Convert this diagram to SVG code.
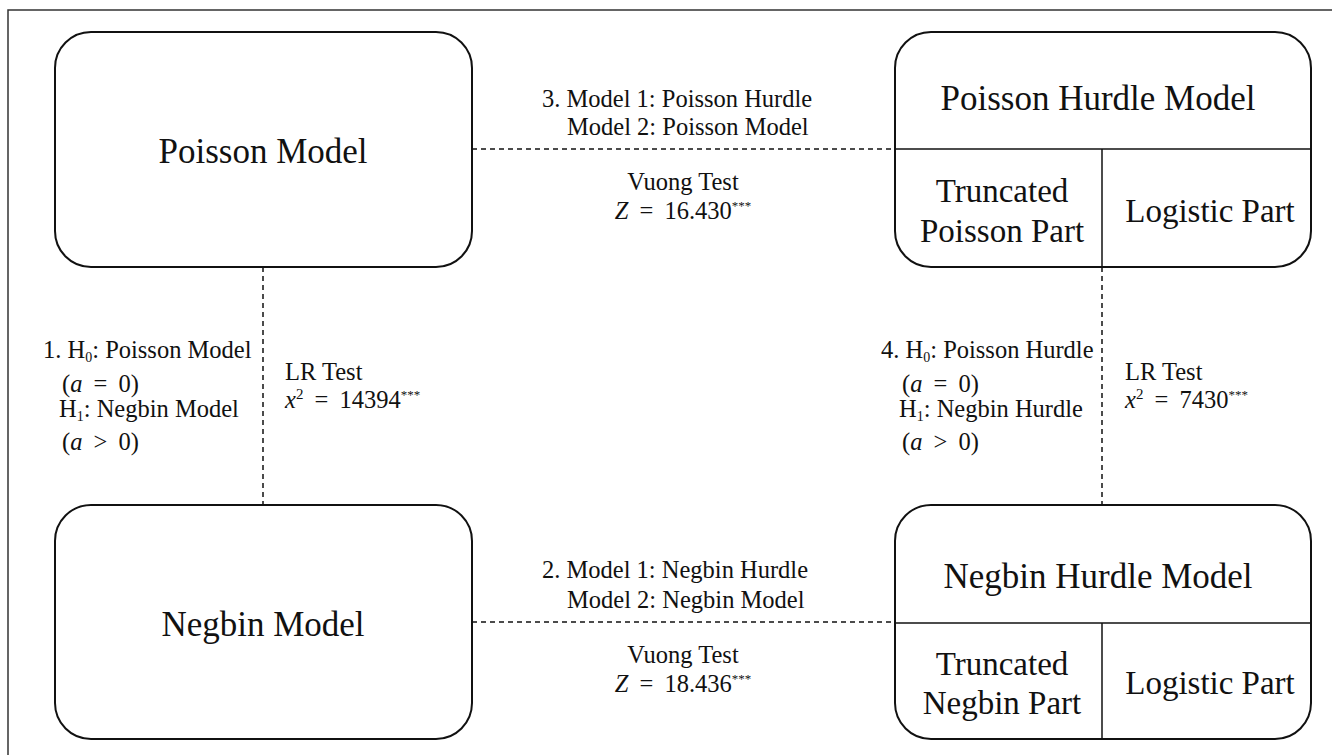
<svg xmlns="http://www.w3.org/2000/svg" width="1332" height="755" viewBox="0 0 1332 755" font-family="'Liberation Serif','Times New Roman',serif">
<style>
.box{fill:#fff;stroke:#111;stroke-width:2}
.div{stroke:#111;stroke-width:1.5;fill:none}
.dash{stroke:#111;stroke-width:1.5;stroke-dasharray:5,4;fill:none}
text{font-family:"Liberation Serif","Times New Roman",serif;fill:#111}
.big{font-size:35px;text-anchor:middle}
.mid{font-size:33px;text-anchor:middle}
.lab{font-size:24.5px}
.m{word-spacing:5px}
.c{text-anchor:middle}
.i{font-style:italic}
.sup{font-size:13px}
</style>
<rect x="8" y="10" width="1400" height="800" fill="none" stroke="#333" stroke-width="1.5"/>
<g id="connectors">
<line class="dash" x1="472" y1="149" x2="895" y2="149"/>
<line class="dash" x1="472" y1="622" x2="895" y2="622"/>
<line class="dash" x1="263" y1="267" x2="263" y2="505"/>
<line class="dash" x1="1102" y1="267" x2="1102" y2="505"/>
</g>
<g id="poisson-model">
<rect class="box" x="55" y="32" width="417" height="235" rx="36" ry="36"/>
<text class="big" x="263" y="163">Poisson Model</text>
</g>
<g id="negbin-model">
<rect class="box" x="55" y="505" width="417" height="234" rx="36" ry="36"/>
<text class="big" x="263" y="636">Negbin Model</text>
</g>
<g id="poisson-hurdle">
<rect class="box" x="895" y="32" width="416" height="235" rx="36" ry="36"/>
<line class="div" x1="895" y1="149" x2="1311" y2="149"/>
<line class="div" x1="1102" y1="149" x2="1102" y2="267"/>
<text class="big" x="1098" y="110">Poisson Hurdle Model</text>
<text class="mid" x="1002" y="202">Truncated</text>
<text class="mid" x="1002" y="242">Poisson Part</text>
<text class="mid" x="1210" y="222">Logistic Part</text>
</g>
<g id="negbin-hurdle">
<rect class="box" x="895" y="505" width="416" height="234" rx="36" ry="36"/>
<line class="div" x1="895" y1="623" x2="1311" y2="623"/>
<line class="div" x1="1102" y1="623" x2="1102" y2="739"/>
<text class="big" x="1098" y="588">Negbin Hurdle Model</text>
<text class="mid" x="1002" y="675">Truncated</text>
<text class="mid" x="1002" y="714">Negbin Part</text>
<text class="mid" x="1210" y="694">Logistic Part</text>
</g>
<g id="label-3">
<text class="lab" x="542" y="107">3. Model 1: Poisson Hurdle</text>
<text class="lab" x="567" y="135">Model 2: Poisson Model</text>
<text class="lab c" x="683" y="190">Vuong Test</text>
<text class="lab c m" x="683" y="219"><tspan class="i">Z</tspan> = 16.430<tspan class="sup" dy="-9">***</tspan></text>
</g>
<g id="label-2">
<text class="lab" x="542" y="578">2. Model 1: Negbin Hurdle</text>
<text class="lab" x="567" y="608">Model 2: Negbin Model</text>
<text class="lab c" x="683" y="663">Vuong Test</text>
<text class="lab c m" x="683" y="692"><tspan class="i">Z</tspan> = 18.436<tspan class="sup" dy="-9">***</tspan></text>
</g>
<g id="label-1">
<text class="lab" x="43" y="358">1. H<tspan font-size="14" dy="4">0</tspan><tspan dy="-4">: Poisson Model</tspan></text>
<text class="lab m" x="62" y="392">(<tspan class="i">a</tspan> = 0)</text>
<text class="lab" x="59" y="417">H<tspan font-size="14" dy="4">1</tspan><tspan dy="-4">: Negbin Model</tspan></text>
<text class="lab m" x="62" y="450">(<tspan class="i">a</tspan> &gt; 0)</text>
<text class="lab" x="285" y="380">LR Test</text>
<text class="lab m" x="285" y="408"><tspan class="i">x</tspan><tspan font-size="15" dy="-9">2</tspan><tspan dy="9"> = 14394</tspan><tspan class="sup" dy="-9">***</tspan></text>
</g>
<g id="label-4">
<text class="lab" x="881" y="358">4. H<tspan font-size="14" dy="4">0</tspan><tspan dy="-4">: Poisson Hurdle</tspan></text>
<text class="lab m" x="902" y="392">(<tspan class="i">a</tspan> = 0)</text>
<text class="lab" x="899" y="417">H<tspan font-size="14" dy="4">1</tspan><tspan dy="-4">: Negbin Hurdle</tspan></text>
<text class="lab m" x="902" y="450">(<tspan class="i">a</tspan> &gt; 0)</text>
<text class="lab" x="1125" y="380">LR Test</text>
<text class="lab m" x="1125" y="408"><tspan class="i">x</tspan><tspan font-size="15" dy="-9">2</tspan><tspan dy="9"> = 7430</tspan><tspan class="sup" dy="-9">***</tspan></text>
</g>
</svg>
